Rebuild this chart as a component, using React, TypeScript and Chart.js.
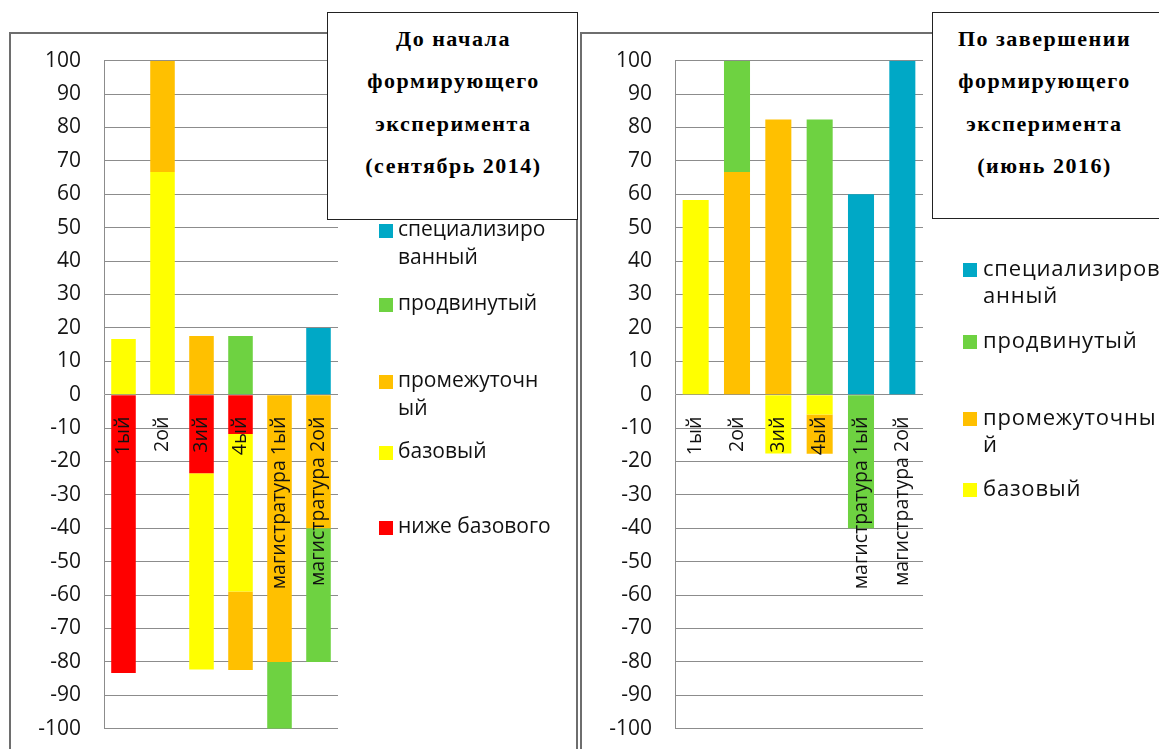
import React, { useEffect, useRef } from "react";
import { Chart, registerables } from "chart.js";

Chart.register(...registerables);

// ---------- DATA ----------
const categories = ["1ый", "2ой", "3ий", "4ый", "магистратура 1ый", "магистратура 2ой"];

const yMin = -100;
const yMax = 100;
const yStep = 10;

// series (dataset order = stacking order)
const seriesNames = ["ниже базового", "базовый", "промежуточный", "продвинутый", "специализированный"];
const seriesColors = ["#FF0000", "#FFFF00", "#FFC000", "#6ED241", "#00A8C6"];

// До начала формирующего эксперимента (сентябрь 2014)
const beforeBelowBase = [-83.3, null, -23.5, -11.8, null, null];
const beforeBase = [16.7, 66.7, -58.8, -47.1, null, null];
const beforeIntermediate = [null, 33.3, 17.6, -23.5, -80, -40];
const beforeAdvanced = [null, null, null, 17.6, -20, -40];
const beforeSpecialized = [null, null, null, null, null, 20];

// По завершении формирующего эксперимента (июнь 2016)
const afterBase = [58.3, null, -17.6, -5.9, null, null];
const afterIntermediate = [null, 66.7, 82.4, -11.8, null, null];
const afterAdvanced = [null, 33.3, null, 82.4, -40, null];
const afterSpecialized = [null, null, null, null, 60, 100];

const titleBefore = ["До начала", "формирующего", "эксперимента", "(сентябрь 2014)"];
const titleAfter = ["По завершении", "формирующего", "эксперимента", "(июнь 2016)"];

// legend entries (shown in reverse stacking order), with the line wraps of the original
const legendBefore = [
  { series: 4, lines: ["специализиро", "ванный"] },
  { series: 3, lines: ["продвинутый"] },
  { series: 2, lines: ["промежуточн", "ый"] },
  { series: 1, lines: ["базовый"] },
  { series: 0, lines: ["ниже базового"] },
];
const legendAfter = [
  { series: 4, lines: ["специализиров", "анный"] },
  { series: 3, lines: ["продвинутый"] },
  { series: 2, lines: ["промежуточны", "й"] },
  { series: 1, lines: ["базовый"] },
];

// ---------- LAYOUT / STYLE ----------
const SANS = "'Open Sans', 'DejaVu Sans', sans-serif";
const SERIF = "'Liberation Serif', 'DejaVu Serif', serif";

type Box = { left: number; top: number; width: number; height: number };

function buildDatasets(series: { idx: number; values: (number | null)[] }[]) {
  return series.map((s) => ({
    label: seriesNames[s.idx],
    data: s.values,
    backgroundColor: seriesColors[s.idx],
    borderWidth: 0,
    barPercentage: 0.63,
    categoryPercentage: 1,
  }));
}

function BarCanvas({ box, plot, datasets }: { box: Box; plot: { left: number; right: number; top: number; bottom: number }; datasets: any[] }) {
  const ref = useRef<HTMLCanvasElement>(null);
  useEffect(() => {
    const axisWidth = plot.left - box.left;
    const tTop = plot.top - box.top;
    const tBottom = plot.bottom - box.top;
    const tRight = plot.right - box.left;
    let pad = { left: 0, top: tTop, right: box.width - tRight, bottom: box.height - tBottom };
    const chart = new Chart(ref.current as HTMLCanvasElement, {
      type: "bar",
      data: { labels: categories, datasets },
      options: {
        responsive: false,
        maintainAspectRatio: false,
        animation: false,
        layout: { padding: pad },
        plugins: {
          legend: { display: false },
          title: { display: false },
          tooltip: { enabled: false },
        },
        scales: {
          x: {
            type: "category",
            stacked: true,
            position: { y: 0 } as any,
            grid: { display: false, drawTicks: false },
            border: { display: false },
            ticks: {
              minRotation: 90,
              maxRotation: 90,
              autoSkip: false,
              padding: 22,
              color: "#111",
              font: { family: SANS, size: 19.5 },
              z: 1,
            },
            afterFit: (s: any) => {
              s.height = 0;
              s.paddingLeft = 0;
              s.paddingRight = 0;
            },
          },
          y: {
            stacked: true,
            min: yMin,
            max: yMax,
            ticks: {
              stepSize: yStep,
              maxTicksLimit: 30,
              autoSkip: false,
              padding: 23,
              color: "#151515",
              font: { family: SANS, size: 21 },
            },
            grid: { color: "#8c8c8c", lineWidth: 1, drawTicks: false },
            border: { color: "#8c8c8c", width: 1 },
            afterFit: (s: any) => {
              s.width = axisWidth;
              s.paddingTop = 0;
              s.paddingBottom = 0;
            },
          },
        },
      },
    } as any);
    // nudge the layout padding so that the plot area lands where the reference has it
    for (let k = 0; k < 5; k++) {
      const ca = chart.chartArea;
      const dt = tTop - ca.top;
      const db = ca.bottom - tBottom;
      const dr = ca.right - tRight;
      if (Math.abs(dt) < 0.2 && Math.abs(db) < 0.2 && Math.abs(dr) < 0.2) break;
      pad = {
        left: 0,
        top: Math.max(0, pad.top + dt),
        right: Math.max(0, pad.right + dr),
        bottom: Math.max(0, pad.bottom + db),
      };
      (chart.options as any).layout.padding = pad;
      chart.update();
    }
    return () => chart.destroy();
  }, []);
  return (
    <canvas
      ref={ref}
      width={box.width}
      height={box.height}
      style={{ position: "absolute", left: box.left, top: box.top, width: box.width, height: box.height }}
    />
  );
}

function TitleBox({ box, lines, textTop, textWidth }: { box: Box; lines: string[]; textTop: number; textWidth: number }) {
  return (
    <div
      style={{
        position: "absolute",
        left: box.left,
        top: box.top,
        width: box.width,
        height: box.height,
        boxSizing: "border-box",
        border: "1.5px solid #222",
        background: "#fff",
        zIndex: 3,
      }}
    >
      <div
        style={{
          position: "absolute",
          left: 0,
          width: textWidth,
          top: textTop - box.top - 1.5,
          textAlign: "center",
          fontFamily: SERIF,
          fontWeight: "bold",
          fontSize: 22,
          lineHeight: "42.5px",
          letterSpacing: "1.5px",
          color: "#000",
          whiteSpace: "nowrap",
        }}
      >
        {lines.map((l, i) => (
          <div key={i}>{l}</div>
        ))}
      </div>
    </div>
  );
}

function Legend({
  items,
  markerX,
  textX,
  centers,
  lineGap,
  fontSize,
  spacing,
}: {
  items: { series: number; lines: string[] }[];
  markerX: number;
  textX: number;
  centers: number[];
  lineGap: number;
  fontSize: number;
  spacing: number;
}) {
  return (
    <>
      {items.map((it, i) => (
        <React.Fragment key={i}>
          <div
            style={{
              position: "absolute",
              left: markerX,
              top: centers[i] - 7,
              width: 14,
              height: 14,
              background: seriesColors[it.series],
              zIndex: 3,
            }}
          />
          {it.lines.map((ln, j) => (
            <div
              key={j}
              style={{
                position: "absolute",
                left: textX,
                top: centers[i] + j * lineGap - 17,
                fontFamily: SANS,
                fontSize,
                lineHeight: "28px",
                letterSpacing: spacing + "px",
                color: "#111",
                whiteSpace: "nowrap",
                zIndex: 3,
              }}
            >
              {ln}
            </div>
          ))}
        </React.Fragment>
      ))}
    </>
  );
}

export default function App() {
  const leftDatasets = buildDatasets([
    { idx: 0, values: beforeBelowBase },
    { idx: 1, values: beforeBase },
    { idx: 2, values: beforeIntermediate },
    { idx: 3, values: beforeAdvanced },
    { idx: 4, values: beforeSpecialized },
  ]);
  const rightDatasets = buildDatasets([
    { idx: 1, values: afterBase },
    { idx: 2, values: afterIntermediate },
    { idx: 3, values: afterAdvanced },
    { idx: 4, values: afterSpecialized },
  ]);

  return (
    <div
      style={{
        position: "fixed",
        left: 0,
        top: 0,
        width: 1159,
        height: 749,
        overflow: "hidden",
        background: "#fff",
      }}
    >
      {/* frames */}
      <div
        style={{
          position: "absolute",
          left: 9,
          top: 32,
          width: 569,
          height: 740,
          boxSizing: "border-box",
          border: "2px solid #6e6e6e",
        }}
      />
      <div
        style={{
          position: "absolute",
          left: 580,
          top: 32,
          width: 600,
          height: 740,
          boxSizing: "border-box",
          border: "2px solid #6e6e6e",
        }}
      />

      <BarCanvas
        box={{ left: 11, top: 34, width: 565, height: 715 }}
        plot={{ left: 104, right: 338, top: 60.7, bottom: 728.7 }}
        datasets={leftDatasets}
      />
      <BarCanvas
        box={{ left: 582, top: 34, width: 572, height: 715 }}
        plot={{ left: 675, right: 923, top: 60.7, bottom: 728.7 }}
        datasets={rightDatasets}
      />

      <TitleBox box={{ left: 327, top: 12, width: 251, height: 208 }} lines={titleBefore} textTop={18} textWidth={251} />
      <TitleBox box={{ left: 932, top: 12, width: 250, height: 207 }} lines={titleAfter} textTop={18} textWidth={223} />

      <Legend
        items={legendBefore}
        markerX={379}
        textX={398}
        centers={[231, 305, 382, 453, 528]}
        lineGap={28}
        fontSize={21}
        spacing={0}
      />
      <Legend
        items={legendAfter}
        markerX={963}
        textX={983}
        centers={[270, 342, 419, 490]}
        lineGap={27}
        fontSize={22}
        spacing={0.8}
      />
    </div>
  );
}
